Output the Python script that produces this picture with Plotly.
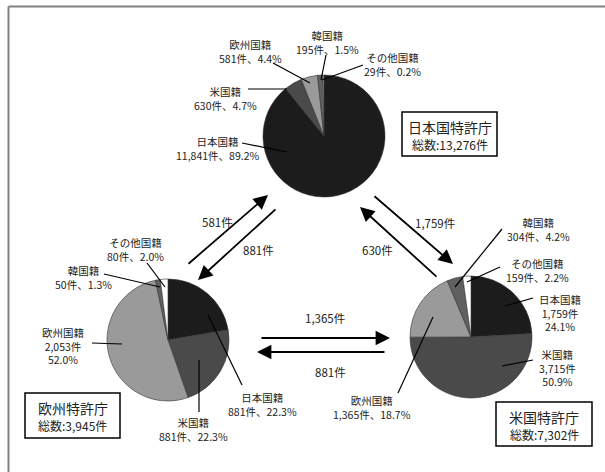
import plotly.graph_objects as go

W, H = 605, 472

# ---- data ----
nationalities = ["日本国籍", "米国籍", "欧州国籍", "韓国籍", "その他国籍"]
colors = ["#1c1c1c", "#4a4a4a", "#9a9a9a", "#606060", "#ffffff"]

jp_counts = [11841, 630, 581, 195, 29]
jp_pcts = ["89.2%", "4.7%", "4.4%", "1.5%", "0.2%"]
ep_counts = [881, 881, 2053, 50, 80]
ep_pcts = ["22.3%", "22.3%", "52.0%", "1.3%", "2.0%"]
us_counts = [1759, 3715, 1365, 304, 159]
us_pcts = ["24.1%", "50.9%", "18.7%", "4.2%", "2.2%"]

office_names = ["日本国特許庁", "欧州特許庁", "米国特許庁"]
office_totals = ["13,276", "3,945", "7,302"]

flow_labels = {
    "ep_to_jp": "581件", "jp_to_ep": "881件",
    "jp_to_us": "1,759件", "us_to_jp": "630件",
    "ep_to_us": "1,365件", "us_to_ep": "881件",
}

FONT = "Noto Sans CJK JP"


def fmt(n):
    return f"{n:,}"


def dom(cx, cy, r):
    return dict(x=[(cx - r) / W, (cx + r) / W], y=[(H - cy - r) / H, (H - cy + r) / H])


fig = go.Figure()

pies = [
    (jp_counts, dom(324, 136, 61)),
    (ep_counts, dom(168, 340, 61)),
    (us_counts, dom(471, 337, 61)),
]
for vals, d in pies:
    fig.add_trace(go.Pie(
        labels=nationalities, values=vals, sort=False, direction="clockwise",
        rotation=0, marker=dict(colors=colors, line=dict(color="#333333", width=0.6)),
        textinfo="none", hoverinfo="label+value", domain=d, showlegend=False,
    ))

# hidden pixel-space axes for annotations and shapes
fig.add_trace(go.Scatter(x=[], y=[], showlegend=False))
fig.update_xaxes(range=[0, W], visible=False, fixedrange=True)
fig.update_yaxes(range=[H, 0], visible=False, fixedrange=True)

ann = []
shapes = []


def label(x, y, text, size=10.5):
    ann.append(dict(x=x, y=y, xref="x", yref="y", text=text, showarrow=False,
                    font=dict(family=FONT, size=size, color="#222"), align="center"))


def leader(x0, y0, x1, y1):
    shapes.append(dict(type="line", xref="x", yref="y", x0=x0, y0=y0, x1=x1, y1=y1,
                       line=dict(color="#000", width=1.2)))


def two(i, counts, pcts):
    return f"{nationalities[i]}<br>{fmt(counts[i])}件、{pcts[i]}"


def three(i, counts, pcts):
    return f"{nationalities[i]}<br>{fmt(counts[i])}件<br>{pcts[i]}"


# Japan office pie labels
label(217, 148, two(0, jp_counts, jp_pcts)); leader(242, 143, 287, 152)
label(225, 98, two(1, jp_counts, jp_pcts)); leader(248, 89, 287, 89)
label(250, 51, two(2, jp_counts, jp_pcts)); leader(273, 63, 310, 83)
label(327, 42, two(3, jp_counts, jp_pcts)); leader(326, 55, 321, 80)
label(392, 64, two(4, jp_counts, jp_pcts)); leader(363, 65, 322, 80)

# Europe office pie labels
label(262, 404, two(0, ep_counts, ep_pcts)); leader(242, 385, 208, 315)
label(193, 429, two(1, ep_counts, ep_pcts)); leader(199, 412, 199, 360)
label(63, 346, three(2, ep_counts, ep_pcts)); leader(92, 343, 122, 344)
label(83, 277, two(3, ep_counts, ep_pcts)); leader(104, 274, 160, 287)
label(135, 249, two(4, ep_counts, ep_pcts)); leader(147, 263, 165, 287)

# US office pie labels
label(560, 313, three(0, us_counts, us_pcts)); leader(533, 298, 505, 306)
label(557, 368, three(1, us_counts, us_pcts)); leader(533, 360, 502, 366)
label(372, 407, two(2, us_counts, us_pcts)); leader(398, 393, 433, 317)
label(538, 229, two(3, us_counts, us_pcts)); leader(502, 229, 455, 287)
label(537, 270, two(4, us_counts, us_pcts)); leader(500, 267, 467, 282)


def arrow(tx, ty, hx, hy):
    ann.append(dict(x=hx, y=hy, ax=tx, ay=ty, xref="x", yref="y", axref="x", ayref="y",
                    text="", showarrow=True, arrowhead=2, arrowsize=1.6, arrowwidth=1.8,
                    arrowcolor="#000"))


arrow(187, 265, 268, 195); label(217, 222, flow_labels["ep_to_jp"], 11.5)
arrow(277, 208, 198, 280); label(258, 250, flow_labels["jp_to_ep"], 11.5)
arrow(373, 195, 453, 264); label(435, 223, flow_labels["jp_to_us"], 11.5)
arrow(438, 278, 360, 207); label(377, 250, flow_labels["us_to_jp"], 11.5)
arrow(260, 338, 390, 338); label(325, 318, flow_labels["ep_to_us"], 11.5)
arrow(386, 352, 257, 352); label(330, 372, flow_labels["us_to_ep"], 11.5)

# office boxes
boxes = [(402, 112, 497, 156, 0), (25, 393, 120, 438, 1), (496, 402, 592, 446, 2)]
for x0, y0, x1, y1, i in boxes:
    shapes.append(dict(type="rect", xref="x", yref="y", x0=x0, y0=y0, x1=x1, y1=y1,
                       line=dict(color="#000", width=1.5), fillcolor="white", layer="below"))
    cx = (x0 + x1) / 2
    label(cx, y0 + 15, office_names[i], 14)
    label(cx, y0 + 32, f"総数:{office_totals[i]}件", 12)

# outer frame (top and left edges)
shapes.append(dict(type="line", xref="paper", yref="paper", x0=8.5 / W, x1=1, y0=1 - 6.5 / H, y1=1 - 6.5 / H,
                   line=dict(color="#808080", width=2)))
shapes.append(dict(type="line", xref="paper", yref="paper", x0=8.5 / W, x1=8.5 / W, y0=0, y1=1 - 6.5 / H,
                   line=dict(color="#808080", width=2)))

fig.update_layout(width=W, height=H, margin=dict(l=0, r=0, t=0, b=0),
                  paper_bgcolor="white", plot_bgcolor="white",
                  annotations=ann, shapes=shapes, showlegend=False)

fig.write_html("out.html")
